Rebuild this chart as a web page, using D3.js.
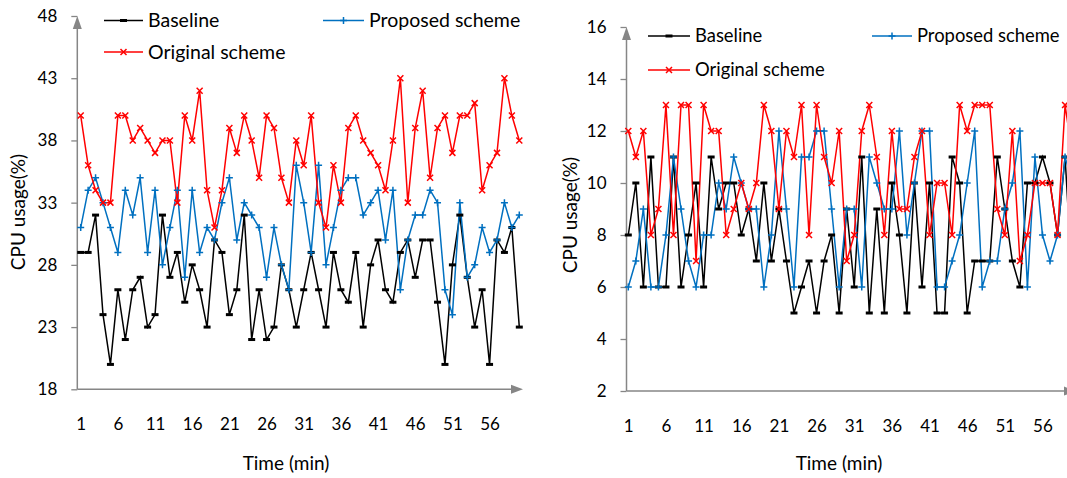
<!DOCTYPE html>
<html><head><meta charset="utf-8">
<script src="https://cdn.jsdelivr.net/npm/d3@7"></script>
<style>
body{margin:0;background:#fff}
svg{display:block}
text{font-family:Lato,"Open Sans",sans-serif;fill:#000}
</style>
</head><body>
<svg id="c" width="1067" height="478"></svg>
<script>
// ---------- data ----------
const minutes = [1,2,3,4,5,6,7,8,9,10,11,12,13,14,15,16,17,18,19,20,21,22,23,24,25,26,27,28,29,30,
  31,32,33,34,35,36,37,38,39,40,41,42,43,44,45,46,47,48,49,50,51,52,53,54,55,56,57,58,59,60];
const xTickLabels = [1,6,11,16,21,26,31,36,41,46,51,56];
const leftYTicks = [18,23,28,33,38,43,48];
const rightYTicks = [2,4,6,8,10,12,14,16];
const seriesNames = ["Baseline","Proposed scheme","Original scheme"];

const leftBaseline = [29,29,32,24,20,26,22,26,27,23,24,32,27,29,25,28,26,23,30,29,24,
  26,32,22,26,22,23,28,26,23,26,29,26,23,29,26,25,29,23,28,30,
  26,25,29,30,27,30,30,25,20,28,32,27,23,26,20,30,29,31,23];
const leftProposed = [31,34,35,33,31,29,34,32,35,29,34,28,31,34,27,34,29,31,30,33,35,
  30,33,32,31,27,31,28,26,36,33,29,36,28,31,34,35,35,32,33,34,
  30,34,26,30,32,32,34,33,26,24,33,27,28,31,29,30,33,31,32];
const leftOriginal = [40,36,34,33,33,40,40,38,39,38,37,38,38,33,40,38,42,34,31,34,39,
  37,40,38,35,40,39,35,33,38,36,40,33,31,36,33,39,40,38,37,36,
  34,38,43,33,39,42,35,39,40,37,40,40,41,34,36,37,43,40,38];

const rightBaseline = [8,10,6,11,6,6,11,6,8,10,6,11,9,10,10,8,9,7,10,7,9,7,5,6,7,5,7,8,5,9,
  6,11,5,9,5,10,8,5,10,6,10,5,5,11,10,5,7,7,7,11,9,7,6,10,10,11,10,8,11,6];
const rightProposed = [6,7,9,6,6,8,11,9,7,6,8,8,10,9,11,10,9,9,6,8,12,9,6,11,11,12,12,9,6,9,
  9,6,11,10,9,9,12,8,10,12,12,6,6,7,8,10,12,6,7,7,9,10,12,6,11,8,7,8,11,10];
const rightOriginal = [12,11,12,8,9,13,8,13,13,7,13,12,12,8,9,10,9,10,13,12,9,12,11,13,8,13,11,10,12,7,
  8,12,13,11,8,12,9,9,11,12,8,10,10,8,13,12,13,13,13,9,8,12,7,8,10,10,10,8,13,11];

// ---------- drawing ----------
const svg = d3.select("#c");
const axisColor = "#868686";
const colors = ["#000000","#0070C0","#FF0000"];

function marker(g, kind, cx, cy, color){
  if(kind===0){
    g.append("rect").attr("x",cx-3.5).attr("y",cy-1.5).attr("width",7).attr("height",3).attr("fill",color);
  } else if(kind===1){
    g.append("path").attr("d",`M${cx-3.5},${cy}H${cx+3.5}M${cx},${cy-3.5}V${cy+3.5}`)
      .attr("stroke",color).attr("stroke-width",1.5).attr("fill","none");
  } else {
    g.append("path").attr("d",`M${cx-3},${cy-3}L${cx+3},${cy+3}M${cx-3},${cy+3}L${cx+3},${cy-3}`)
      .attr("stroke",color).attr("stroke-width",1.5).attr("fill","none");
  }
}

function panel(cfg){
  const g = svg.append("g");
  const x = d3.scaleLinear().domain([1,60]).range([cfg.x0,cfg.x1]);
  const y = d3.scaleLinear().domain(cfg.yDomain).range([cfg.yBot,cfg.yTop]);

  // y axis ticks + labels
  const ya = g.append("g").attr("transform",`translate(${cfg.axisX},0)`)
    .call(d3.axisLeft(y).tickValues(cfg.yTicks).tickSize(6).tickPadding(14).tickSizeOuter(0));
  ya.select(".domain").remove();
  ya.selectAll("line").attr("stroke",axisColor).attr("stroke-width",1.3);
  ya.selectAll("text").attr("font-size",17).attr("font-family","Lato").attr("fill","#000");

  // x axis labels
  const xa = g.append("g").attr("transform",`translate(0,${cfg.yBot})`)
    .call(d3.axisBottom(x).tickValues(xTickLabels).tickSize(0).tickPadding(29));
  xa.select(".domain").remove();
  xa.selectAll("text").attr("font-size",17).attr("font-family","Lato").attr("fill","#000");

  // axis lines with arrows
  g.append("line").attr("x1",cfg.axisX).attr("x2",cfg.axisX).attr("y1",cfg.yBot).attr("y2",cfg.yTop+8)
    .attr("stroke",axisColor).attr("stroke-width",1.5);
  g.append("path").attr("d",`M${cfg.axisX},${cfg.yTop}L${cfg.axisX-4.5},${cfg.yTop+13}L${cfg.axisX+4.5},${cfg.yTop+13}Z`)
    .attr("fill",axisColor);
  g.append("line").attr("x1",cfg.axisX).attr("x2",cfg.xAxisEnd-8).attr("y1",cfg.yBot).attr("y2",cfg.yBot)
    .attr("stroke",axisColor).attr("stroke-width",1.5);
  g.append("path").attr("d",`M${cfg.xAxisEnd},${cfg.yBot}L${cfg.xAxisEnd-12},${cfg.yBot-4.5}L${cfg.xAxisEnd-12},${cfg.yBot+4.5}Z`)
    .attr("fill",axisColor);

  // series
  const line = d3.line().x((d,i)=>x(minutes[i])).y(d=>y(d));
  const order = [0,1,2];
  order.forEach(k=>{
    g.append("path").attr("d",line(cfg.series[k])).attr("fill","none")
      .attr("stroke",colors[k]).attr("stroke-width",1.5);
  });
  order.forEach(k=>{
    const mg = g.append("g");
    cfg.series[k].forEach((d,i)=>marker(mg,k,x(minutes[i]),y(d),colors[k]));
  });

  // legend
  cfg.legend.forEach((L,k)=>{
    g.append("line").attr("x1",L[0]).attr("x2",L[1]).attr("y1",L[2]).attr("y2",L[2])
      .attr("stroke",colors[k]).attr("stroke-width",1.5);
    marker(g,k,(L[0]+L[1])/2,L[2],colors[k]);
    g.append("text").attr("x",L[1]+5).attr("y",L[2]).attr("dy","0.35em")
      .attr("font-size",cfg.legendFont).text(seriesNames[k]);
  });

  // titles
  g.append("text").attr("x",cfg.xTitle[0]).attr("y",cfg.xTitle[1]).attr("text-anchor","middle")
    .attr("dy","0.35em").attr("font-size",19).text("Time (min)");
  g.append("text").attr("transform",`translate(${cfg.yTitle[0]},${cfg.yTitle[1]}) rotate(-90)`)
    .attr("text-anchor","middle").attr("dy","0.35em").attr("font-size",19).text("CPU usage(%)");
}

panel({
  x0:80.7, x1:519.3, yTop:16, yBot:389.3, axisX:77.3, xAxisEnd:523,
  yDomain:[18,48], yTicks:leftYTicks,
  series:[leftBaseline,leftProposed,leftOriginal],
  legend:[[104,143,20.5],[323,364,20.5],[104,143,52]], legendFont:19.5,
  xTitle:[286,463], yTitle:[18.5,212]
});
panel({
  x0:628.3, x1:1072.6, yTop:27, yBot:391, axisX:626.5, xAxisEnd:1076,
  yDomain:[2,16], yTicks:rightYTicks,
  series:[rightBaseline,rightProposed,rightOriginal],
  legend:[[648,690,36],[872,912,36],[648,690,70]], legendFont:18.4,
  xTitle:[839,463], yTitle:[570,215]
});
</script>
</body></html>
